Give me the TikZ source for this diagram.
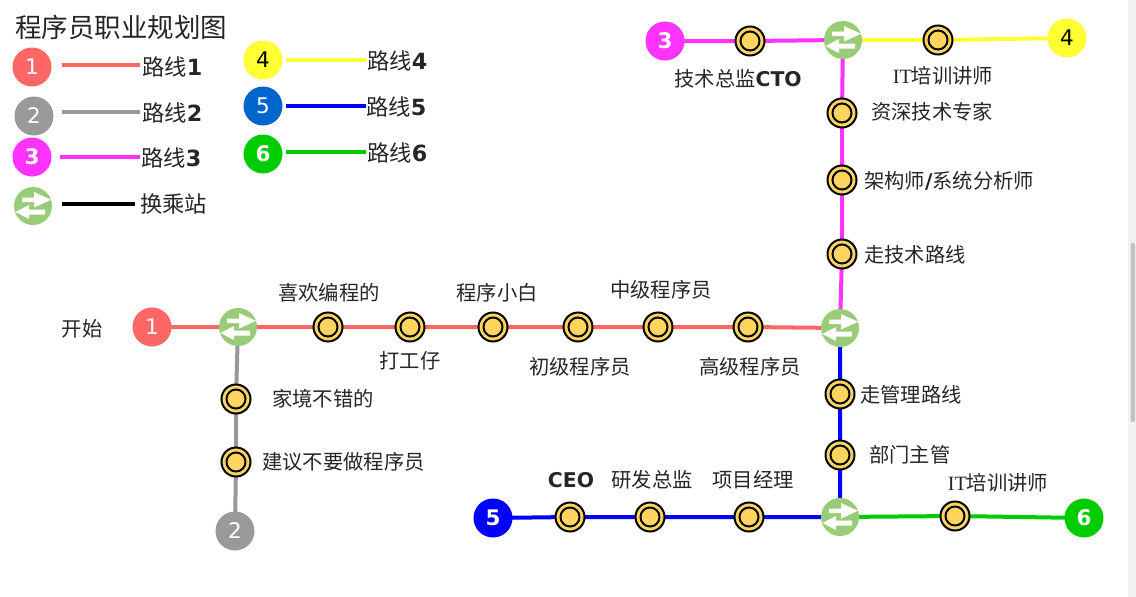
\documentclass[tikz,border=0pt]{standalone}
\usepackage{fontspec}
\setmainfont{Noto Sans CJK SC}
\newfontfamily\dvs{DejaVu Sans}
\newfontfamily\lser{Liberation Serif}
\definecolor{cRed}{HTML}{FF6666}
\definecolor{cGray}{HTML}{999999}
\definecolor{cMag}{HTML}{FF33FF}
\definecolor{cYel}{HTML}{FFFF33}
\definecolor{cBlue}{HTML}{0000FF}
\definecolor{cBlueL}{HTML}{0066CC}
\definecolor{cGreen}{HTML}{00CC00}
\definecolor{cX}{HTML}{99CC77}
\definecolor{cSt}{HTML}{FFD55F}
\definecolor{cTxt}{HTML}{262626}
\pgfdeclarelayer{back}
\pgfdeclarelayer{bg}
\pgfsetlayers{back,bg,main}
\newcommand\xicon[1]{%
  \begin{scope}[shift={(#1.center)}]
    \fill[white] (-11,-8.5) -- (1,-8.5) -- (1,-14) -- (18,-6.2) -- (1,1.6) -- (1,-4) -- (-11,-4) -- cycle;
    \fill[white] (12,3.5) -- (-4,3.5) -- (-4,-1) -- (-17.5,6) -- (-4,13) -- (-4,8.5) -- (12,8.5) -- cycle;
  \end{scope}}
\begin{document}
\begin{tikzpicture}[x=1pt,y=-1pt,
  stn/.style={circle, draw=black, line width=2pt, fill=cSt, minimum size=29pt, inner sep=0pt,
    path picture={\draw[line width=2pt] (path picture bounding box.center) circle[radius=9.5pt];}},
  endc/.style={circle, minimum size=39pt, inner sep=0pt, text=white, font=\dvs\fontsize{21.5}{21.5}\selectfont},
  xfer/.style={circle, fill=cX, minimum size=38pt, inner sep=0pt},
  lab/.style={text=cTxt, inner sep=0pt, font=\fontsize{20.3}{20.3}\selectfont},
  leg/.style={text=cTxt, inner sep=0pt, anchor=west, font=\fontsize{22.3}{22.3}\selectfont},
  ln/.style={line width=4pt},
  l1/.style={ln, cRed}, l2/.style={ln, cGray}, l3/.style={ln, cMag},
  l4/.style={ln, cYel}, l5/.style={ln, cBlue}, l6/.style={ln, cGreen}]
\useasboundingbox (0,0) rectangle (1136,597);
\begin{pgfonlayer}{back}
  \fill[white] (0,0) rectangle (1136,597);
  \fill[black!5.5] (1128,0) rectangle (1136,597);
  \fill[black!24, rounded corners=2pt] (1130.5,243) rectangle (1135,422);
\end{pgfonlayer}

% ---------- legend ----------
\node[text=cTxt, inner sep=0pt, anchor=west, font=\fontsize{26.5}{26.5}\selectfont] (title) at (15,27) {程序员职业规划图};
\node[endc, fill=cRed] (lc1) at (32,67) {1};
\node[endc, fill=cGray] (lc2) at (34,116) {2};
\node[endc, fill=cMag, font=\dvs\bfseries\fontsize{21.5}{21.5}\selectfont] (lc3) at (32,157) {3};
\node[xfer] (lcx) at (33,206) {}; \xicon{lcx}
\node[endc, fill=cYel, text=black] (lc4) at (263,60) {4};
\node[endc, fill=cBlueL] (lc5) at (263,106) {5};
\node[endc, fill=cGreen, font=\dvs\bfseries\fontsize{21.5}{21.5}\selectfont] (lc6) at (263,154) {6};
\node[leg] (lt1) at (142,67) {路线{\dvs\bfseries 1}};
\node[leg] (lt2) at (142,113) {路线{\dvs\bfseries 2}};
\node[leg] (lt3) at (141,158) {路线{\dvs\bfseries 3}};
\node[leg] (ltx) at (140,204) {换乘站};
\node[leg] (lt4) at (367,61) {路线{\dvs\bfseries 4}};
\node[leg] (lt5) at (366,107) {路线{\dvs\bfseries 5}};
\node[leg] (lt6) at (367,153) {路线{\dvs\bfseries 6}};
\coordinate (la1) at (62,65);  \coordinate (lb1) at (140,65);
\coordinate (la2) at (62,112); \coordinate (lb2) at (140,112);
\coordinate (la3) at (60,157); \coordinate (lb3) at (140,157);
\coordinate (lax) at (62,204); \coordinate (lbx) at (135,204);
\coordinate (la4) at (286,60); \coordinate (lb4) at (366,60);
\coordinate (la5) at (286,106); \coordinate (lb5) at (366,106);
\coordinate (la6) at (286,152); \coordinate (lb6) at (366,152);
\draw[l1] (la1) -- (lb1);
\draw[l2] (la2) -- (lb2);
\draw[l3] (la3) -- (lb3);
\draw[ln, black] (lax) -- (lbx);
\draw[l4] (la4) -- (lb4);
\draw[l5] (la5) -- (lb5);
\draw[l6] (la6) -- (lb6);

% ---------- terminals and transfers ----------
\node[endc, fill=cRed] (e1) at (152,327) {1};
\node[endc, fill=cGray] (e2) at (235,531) {2};
\node[endc, fill=cMag, font=\dvs\bfseries\fontsize{21.5}{21.5}\selectfont] (e3) at (665,41) {3};
\node[endc, fill=cYel, text=black] (e4) at (1067,38) {4};
\node[endc, fill=cBlue, font=\dvs\bfseries\fontsize{21.5}{21.5}\selectfont] (e5) at (493,518) {5};
\node[endc, fill=cGreen, font=\dvs\bfseries\fontsize{21.5}{21.5}\selectfont] (e6) at (1084,518) {6};
\node[xfer] (tA) at (238,327) {}; \xicon{tA}
\node[xfer] (tB) at (840,328) {}; \xicon{tB}
\node[xfer] (tC) at (843,40) {};  \xicon{tC}
\node[xfer] (tD) at (840,517) {}; \xicon{tD}

% ---------- stations ----------
\node[stn] (s1a) at (328,327) {};
\node[stn] (s1b) at (410,327) {};
\node[stn] (s1c) at (493,327) {};
\node[stn] (s1d) at (578,327) {};
\node[stn] (s1e) at (658,327) {};
\node[stn] (s1f) at (748,327) {};
\node[stn] (s2a) at (236,399) {};
\node[stn] (s2b) at (236,462) {};
\node[stn] (s3a) at (750,41) {};
\node[stn] (s3b) at (842,113) {};
\node[stn] (s3c) at (842,180) {};
\node[stn] (s3d) at (842,254) {};
\node[stn] (s4a) at (938,40) {};
\node[stn] (s5a) at (570,517) {};
\node[stn] (s5b) at (650,517) {};
\node[stn] (s5c) at (749,517) {};
\node[stn] (s5d) at (840,394) {};
\node[stn] (s5e) at (840,455) {};
\node[stn] (s6a) at (955,516) {};

% ---------- lines ----------
\begin{pgfonlayer}{bg}
\draw[l1] (e1.center) -- (tA.center) -- (s1a.center) -- (s1b.center) -- (s1c.center) -- (s1d.center) -- (s1e.center) -- (s1f.center) -- (tB.center);
\draw[l2] (tA.center) -- (s2a.center) -- (s2b.center) -- (e2.center);
\draw[l3] (e3.center) -- (s3a.center) -- (tC.center) -- (s3b.center) -- (s3c.center) -- (s3d.center) -- (tB.center);
\draw[l4] (tC.center) -- (s4a.center) -- (e4.center);
\draw[l5] (tB.center) -- (s5d.center) -- (s5e.center) -- (tD.center) -- (s5c.center) -- (s5b.center) -- (s5a.center) -- (e5.center);
\draw[l6] (tD.center) -- (s6a.center) -- (e6.center);
\end{pgfonlayer}

% ---------- labels ----------
\node[lab] (t0) at (82,329) {开始};
\node[lab] (t1a) at (329,293) {喜欢编程的};
\node[lab] (t1b) at (410,361) {打工仔};
\node[lab] (t1c) at (497,293) {程序小白};
\node[lab] (t1d) at (580,367) {初级程序员};
\node[lab] (t1e) at (661,290) {中级程序员};
\node[lab] (t1f) at (750,367) {高级程序员};
\node[lab, anchor=west] (t2a) at (272,399) {家境不错的};
\node[lab, anchor=west] (t2b) at (262,462) {建议不要做程序员};
\node[lab] (t3a) at (738,79) {技术总监{\dvs\bfseries CTO}};
\node[lab, anchor=west] (t3b) at (871,112) {资深技术专家};
\node[lab, anchor=west] (t3c) at (864,181) {架构师{\dvs\bfseries /}系统分析师};
\node[lab, anchor=west] (t3d) at (864,255) {走技术路线};
\node[lab] (t4a) at (943,76) {{\lser IT}培训讲师};
\node[lab] (t5a) at (571,480) {{\dvs\bfseries CEO}};
\node[lab] (t5b) at (652,480) {研发总监};
\node[lab] (t5c) at (753,480) {项目经理};
\node[lab, anchor=west] (t5d) at (860,395) {走管理路线};
\node[lab, anchor=west] (t5e) at (869,455) {部门主管};
\node[lab] (t6a) at (998,483) {{\lser IT}培训讲师};
\end{tikzpicture}
\end{document}
